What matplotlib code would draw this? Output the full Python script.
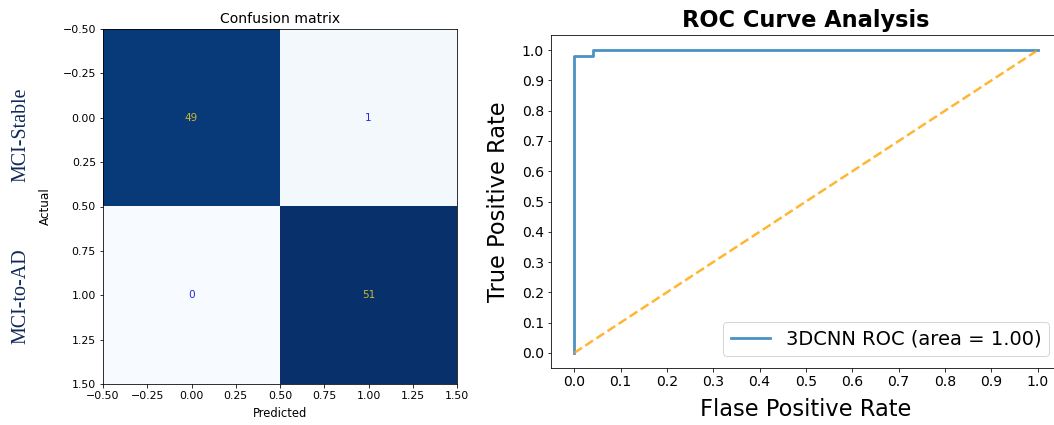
import matplotlib
matplotlib.use("Agg")
import matplotlib.pyplot as plt
import numpy as np

# ---- data ----
class_names = ["MCI-Stable", "MCI-to-AD"]
cm_values = [[49, 1],
             [0, 51]]
fpr = [0.0, 0.0, 0.04, 0.04, 1.0]
tpr = [0.0, 0.98, 0.98, 1.0, 1.0]
roc_auc = 1.00
diag_x = [0.0, 1.0]
diag_y = [0.0, 1.0]

W, H, DPI = 1054, 425, 72
fig = plt.figure(figsize=(W / DPI, H / DPI), dpi=DPI)

def fx(px):
    return px / W

def fy(py):
    return 1 - py / H

# ---- confusion matrix ----
ax1 = fig.add_axes([fx(103), fy(384), fx(457) - fx(103), fy(29) - fy(384)])
cm = np.array(cm_values)
ax1.imshow(cm, cmap="Blues", interpolation="nearest", aspect="auto")
ax1.set_title("Confusion matrix", fontsize=14, pad=6)
ax1.tick_params(labelsize=11)
ticks = [-0.5, -0.25, 0, 0.25, 0.5, 0.75, 1.0, 1.25, 1.5]
ax1.set_xticks(ticks)
ax1.set_yticks(ticks)
ax1.set_xticklabels([f"{v:.2f}".replace("-", "\u2212") for v in ticks])
ax1.set_yticklabels([f"{v:.2f}".replace("-", "\u2212") for v in ticks])
ax1.set_xlim(-0.5, 1.5)
ax1.set_ylim(1.5, -0.5)
for i in range(cm.shape[0]):
    for j in range(cm.shape[1]):
        col = "#c8b830" if cm[i, j] > cm.max() / 2 else "#2a2ae0"
        ax1.text(j, i, str(cm[i, j]), ha="center", va="center", color=col, fontsize=10.5)
ax1.set_xlabel("Predicted", fontsize=11.5)
ax1.set_ylabel("Actual", fontsize=12)
ax1.yaxis.set_label_coords(-0.144, 0.5)
ax1.xaxis.set_label_coords(0.5, -0.065)
for name, ypix in zip(class_names, [135, 296.5]):
    fig.text(fx(21), fy(ypix), name, rotation=90, ha="center", va="center",
             fontsize=20, family="Liberation Serif", color="#10295a")

# ---- ROC ----
ax2 = fig.add_axes([fx(551), fy(368), fx(1061) - fx(551), fy(35) - fy(368)])
ax2.plot(fpr, tpr, color="#1f77b4", alpha=0.8, lw=2.8,
         label=f"3DCNN ROC (area = {roc_auc:.2f})")
ax2.plot(diag_x, diag_y, color="orange", alpha=0.8, lw=2.5, linestyle="--")
ax2.set_xlim(-0.05, 1.05)
ax2.set_ylim(-0.05, 1.05)
ax2.set_xticks(np.round(np.arange(0, 1.01, 0.1), 1))
ax2.set_yticks(np.round(np.arange(0, 1.01, 0.1), 1))
ax2.tick_params(labelsize=14)
ax2.set_title("ROC Curve Analysis", fontsize=22.5, fontweight="bold", pad=8)
ax2.set_xlabel("Flase Positive Rate", fontsize=22.5)
ax2.set_ylabel("True Positive Rate", fontsize=22.5)
ax2.yaxis.set_label_coords(-0.080, 0.5)
ax2.xaxis.set_label_coords(0.5, -0.089)
ax2.legend(loc="lower right", fontsize=19.5, borderaxespad=0.6)

fig.savefig("out.png", dpi=DPI)
